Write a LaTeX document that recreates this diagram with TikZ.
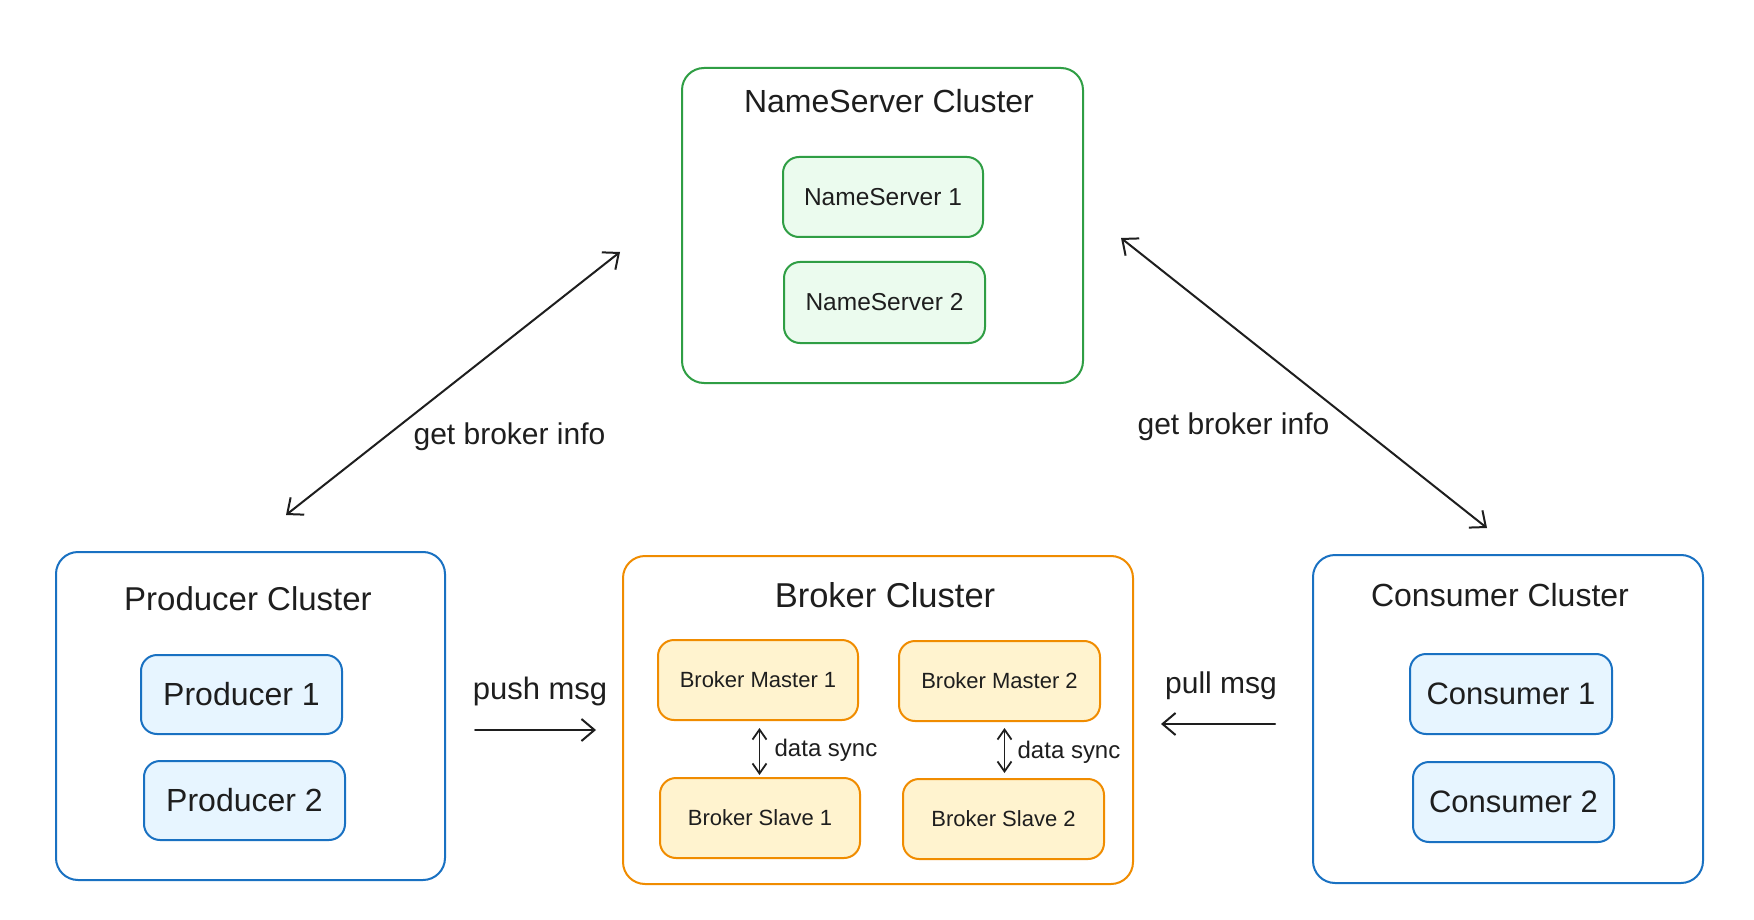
\documentclass[tikz,border=0pt]{standalone}
\usepackage{fontspec}
\setmainfont{Liberation Sans}
\usetikzlibrary{arrows.meta}
\definecolor{ink}{HTML}{1E1E1E}
\definecolor{gstroke}{HTML}{2F9E44}
\definecolor{gfill}{HTML}{EBFBEE}
\definecolor{ostroke}{HTML}{F08C00}
\definecolor{ofill}{HTML}{FFF3CF}
\definecolor{bstroke}{HTML}{1971C2}
\definecolor{bfill}{HTML}{E7F5FF}
\tikzset{
  cluster/.style={draw, line width=2pt, rounded corners=22pt, fill=white, inner sep=0pt},
  inner/.style={draw, line width=2pt, rounded corners=16pt, inner sep=0pt, text=ink},
  gbox/.style={inner, draw=gstroke, fill=gfill, font=\fontsize{24.5}{28}\selectfont},
  obox/.style={inner, draw=ostroke, fill=ofill, font=\fontsize{22}{26}\selectfont},
  bbox/.style={inner, draw=bstroke, fill=bfill, font=\fontsize{31}{35}\selectfont},
  title/.style={anchor=base, text=ink, inner sep=0pt, font=\fontsize{32}{36}\selectfont},
  lbl/.style={anchor=base, text=ink, inner sep=0pt, font=\fontsize{30}{34}\selectfont},
  smlbl/.style={anchor=base, text=ink, inner sep=0pt, font=\fontsize{24}{28}\selectfont},
  conn/.style={draw=ink, line width=2pt, line cap=round, -{Straight Barb[length=13pt,width=22pt,line width=2pt]}},
  biconn/.style={draw=ink, line width=2pt, line cap=round, {Straight Barb[length=13pt,width=22pt,line width=2pt]}-{Straight Barb[length=13pt,width=22pt,line width=2pt]}},
  syncconn/.style={draw=ink, line width=1.8pt, {Straight Barb[length=10pt,width=14pt,line width=1.8pt]}-{Straight Barb[length=10pt,width=14pt,line width=1.8pt]}}
}
\begin{document}
\begin{tikzpicture}[x=1pt,y=-1pt]
\useasboundingbox[fill=white] (0,0) rectangle (1754,920);

% NameServer cluster
\node[cluster, draw=gstroke, minimum width=401pt, minimum height=315pt] (nsc) at (882.5,225.5) {};
\node[title] (nsct) at (889,113) {NameServer Cluster};
\node[gbox, minimum width=200pt, minimum height=80pt] (ns1) at (883,197) {NameServer 1};
\node[gbox, minimum width=201pt, minimum height=81pt] (ns2) at (884.5,302.5) {NameServer 2};

% Producer cluster
\node[cluster, draw=bstroke, minimum width=389pt, minimum height=328pt] (pc) at (250.5,716) {};
\node[title, font=\fontsize{33}{37}\selectfont] (pct) at (248,610) {Producer Cluster};
\node[bbox, font=\fontsize{32}{36}\selectfont, minimum width=201pt, minimum height=79pt] (p1) at (241.5,694.5) {Producer 1};
\node[bbox, font=\fontsize{32}{36}\selectfont, minimum width=201pt, minimum height=79pt] (p2) at (244.5,800.5) {Producer 2};

% Broker cluster
\node[cluster, draw=ostroke, minimum width=510pt, minimum height=328pt] (bc) at (878,720) {};
\node[title, font=\fontsize{34.5}{39}\selectfont] (bct) at (885,607) {Broker Cluster};
\node[obox, minimum width=200pt, minimum height=80pt] (bm1) at (758,680) {Broker Master 1};
\node[obox, minimum width=201pt, minimum height=80pt] (bm2) at (999.5,681) {Broker Master 2};
\node[obox, minimum width=200pt, minimum height=80pt] (bs1) at (760,818) {Broker Slave 1};
\node[obox, minimum width=201pt, minimum height=80pt] (bs2) at (1003.5,819) {Broker Slave 2};

% Consumer cluster
\node[cluster, draw=bstroke, minimum width=390pt, minimum height=328pt] (cc) at (1508,719) {};
\node[title] (cct) at (1500,606) {Consumer Cluster};
\node[bbox, minimum width=202pt, minimum height=80pt] (c1) at (1511,694) {Consumer 1};
\node[bbox, minimum width=201pt, minimum height=80pt] (c2) at (1513.5,802) {Consumer 2};

% connector end points
\coordinate (gl1) at (286,515);
\coordinate (gl2) at (620,252);
\coordinate (gr1) at (1121,238);
\coordinate (gr2) at (1487,528);
\coordinate (ps1) at (475,730);
\coordinate (ps2) at (596,730);
\coordinate (pl1) at (1275,724);
\coordinate (pl2) at (1161,724);
\coordinate (ds1a) at (759.5,728);
\coordinate (ds1b) at (759.5,775);
\coordinate (ds2a) at (1004.5,728);
\coordinate (ds2b) at (1004.5,773);

\draw[biconn] (gl1) -- (gl2);
\draw[biconn] (gr1) -- (gr2);
\draw[conn] (ps1) -- (ps2);
\draw[conn] (pl1) -- (pl2);
\draw[syncconn] (ds1a) -- (ds1b);
\draw[syncconn] (ds2a) -- (ds2b);

% labels
\node[lbl] (lgl) at (509.5,444) {get broker info};
\node[lbl] (lgr) at (1233.5,434) {get broker info};
\node[lbl, font=\fontsize{31}{35}\selectfont] (lps) at (540,699) {push msg};
\node[lbl] (lpl) at (1221,693) {pull msg};
\node[smlbl] (lds1) at (826,756) {data sync};
\node[smlbl] (lds2) at (1069,758) {data sync};
\end{tikzpicture}
\end{document}
